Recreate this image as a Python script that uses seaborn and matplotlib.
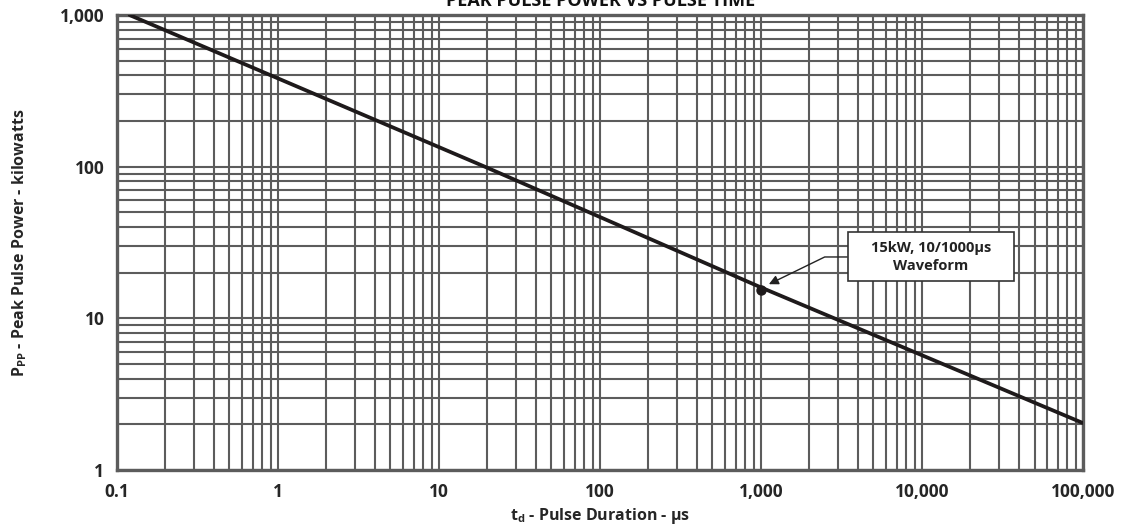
import matplotlib
matplotlib.use("Agg")
import matplotlib.pyplot as plt
from matplotlib.ticker import FixedLocator, LogLocator, NullFormatter, FuncFormatter
import seaborn as sns
import pandas as pd

# data
pulse_us = [0.12, 19.3, 1000, 100000]
power_kw = [1000, 100, 16, 2.04]
marker_x = [1000]
marker_y = [15.4]
x_ticks = [0.1, 1, 10, 100, 1000, 10000, 100000]
y_ticks = [1, 10, 100, 1000]
note = "    15kW, 10/1000µs    \nWaveform"

sns.set_style("white")
plt.rcParams["font.family"] = ["Open Sans", "DejaVu Sans"]
plt.rcParams["font.weight"] = "bold"
plt.rcParams["mathtext.fontset"] = "custom"
plt.rcParams["mathtext.rm"] = "Open Sans:bold"
plt.rcParams["mathtext.it"] = "Open Sans:bold"
plt.rcParams["mathtext.bf"] = "Open Sans:bold"

grid_col = "#5c5c5c"
df = pd.DataFrame({"t": pulse_us, "p": power_kw})

fig = plt.figure(figsize=(11.24, 5.29), dpi=100)
ax = fig.add_axes([0.104, 0.1115, 0.8595, 0.86])

ax.set_xscale("log")
ax.set_yscale("log")
ax.set_xlim(0.1, 100000)
ax.set_ylim(1, 1000)

sns.lineplot(data=df, x="t", y="p", ax=ax, color="#1e1a1b", linewidth=2.7, zorder=3)
ax.plot(marker_x, marker_y, "o", color="#1e1a1b", markersize=6.5, zorder=4)

ax.xaxis.set_major_locator(FixedLocator(x_ticks))
ax.yaxis.set_major_locator(FixedLocator(y_ticks))
ax.xaxis.set_minor_locator(LogLocator(base=10, subs=range(2, 10), numticks=20))
ax.yaxis.set_minor_locator(LogLocator(base=10, subs=range(2, 10), numticks=20))
ax.xaxis.set_minor_formatter(NullFormatter())
ax.yaxis.set_minor_formatter(NullFormatter())
fmt = FuncFormatter(lambda v, p: f"{v:g}" if v < 1 else f"{v:,.0f}")
ax.xaxis.set_major_formatter(fmt)
ax.yaxis.set_major_formatter(fmt)

ax.grid(which="both", color=grid_col, linewidth=1.5)
ax.tick_params(which="both", length=0, labelsize=12.5, pad=9)
for lab in ax.get_xticklabels() + ax.get_yticklabels():
    lab.set_fontweight("bold")
for s in ax.spines.values():
    s.set_color(grid_col)
    s.set_linewidth(2.4)

ax.set_xlabel(r"t$_\mathregular{d}$ - Pulse Duration - µs", fontsize=11.5, fontweight="bold", labelpad=4)
ax.set_ylabel(r"P$_\mathregular{PP}$ - Peak Pulse Power - kilowatts", fontsize=11.5, fontweight="bold", labelpad=22)

# callout box with elbow arrow pointing at the 10/1000us point
ax.annotate(note, xy=(1120, 16.8), xytext=(11400, 25.4), ha="center", va="center",
            fontsize=10.5, fontweight="bold", color="#222222", linespacing=1.45,
            bbox=dict(boxstyle="square,pad=0.55", fc="white", ec="#333333", lw=1.2),
            arrowprops=dict(arrowstyle="-|>", color="#222222", lw=1.0,
                            connectionstyle="angle,angleA=0,angleB=26,rad=0",
                            shrinkA=0, shrinkB=0, mutation_scale=14),
            zorder=5)

fig.text(0.534, 0.998, "PEAK PULSE POWER VS PULSE TIME", ha="center", va="center",
         fontsize=13, fontweight="bold", color="#111111")

fig.savefig("out.png", dpi=100, facecolor="white")
